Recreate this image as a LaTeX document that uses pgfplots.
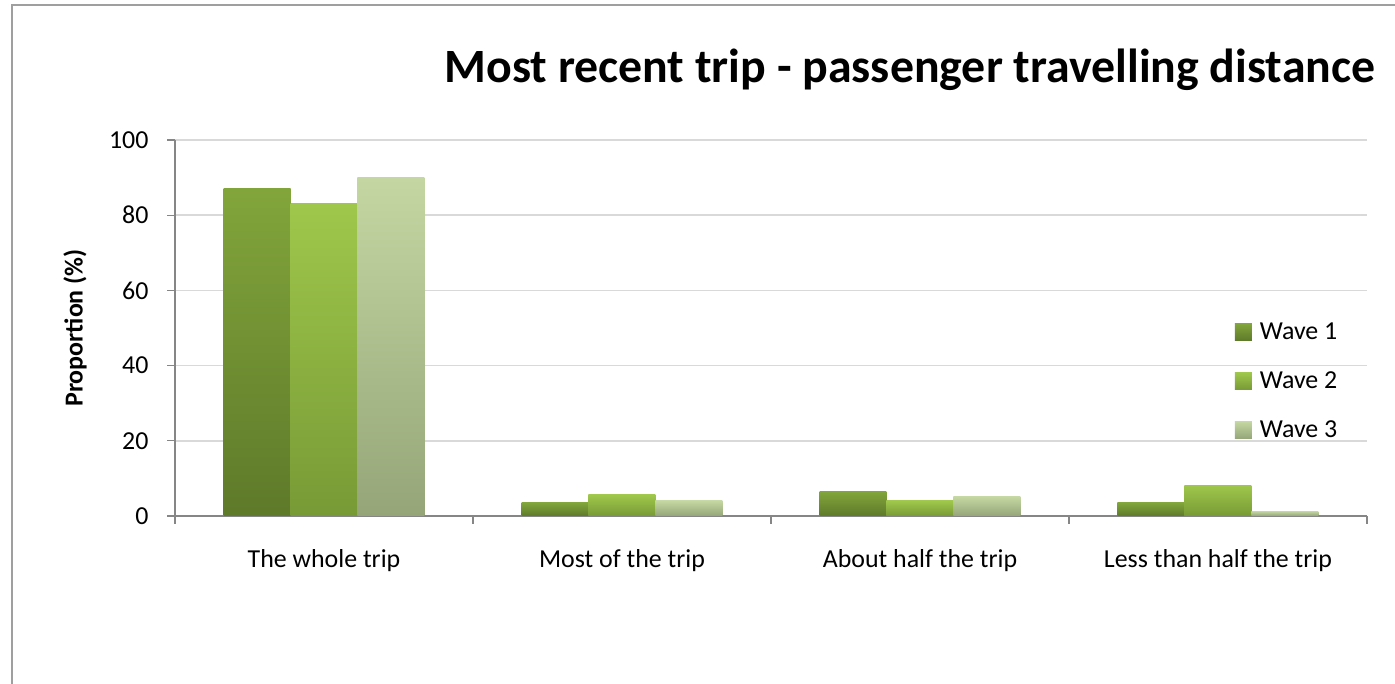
\documentclass[border=0pt]{standalone}
\usepackage{pgfplots}
\pgfplotsset{compat=1.18}
\usepackage{fontspec}
\setmainfont{Carlito}
\definecolor{w1t}{HTML}{82A53B}
\definecolor{w1b}{HTML}{5E7A2A}
\definecolor{w2t}{HTML}{9FC74B}
\definecolor{w2b}{HTML}{789A36}
\definecolor{w3t}{HTML}{C4D7A2}
\definecolor{w3b}{HTML}{95A578}
\definecolor{axgray}{HTML}{868686}
\definecolor{gridgray}{HTML}{D9D9D9}
\tikzset{
  w1/.style={top color=w1t, bottom color=w1b, draw=none},
  w2/.style={top color=w2t, bottom color=w2b, draw=none},
  w3/.style={top color=w3t, bottom color=w3b, draw=none},
}
\pgfplotsset{
  s1/.style={w1, bar shift=-0.2248, legend image code/.code={\path[w1] (0bp,-7.5bp) rectangle (17bp,9.5bp);}},
  s2/.style={w2, bar shift=0, legend image code/.code={\path[w2] (0bp,-7.5bp) rectangle (17bp,9.5bp);}},
  s3/.style={w3, bar shift=0.2248, legend image code/.code={\path[w3] (0bp,-7.5bp) rectangle (17bp,9.5bp);}},
}
\begin{document}
\begin{tikzpicture}[x=1bp,y=1bp]
\useasboundingbox (0,0) rectangle (1395,684);
\fill[white] (0,0) rectangle (1395,684);
\draw[gray!75, line width=1.5bp] (12,0) -- (12,679) -- (1395,679);
\node[font=\fontsize{48}{52}\selectfont\bfseries, anchor=center] at (910,614) {Most recent trip - passenger travelling distance};
\begin{axis}[
  at={(175bp,168bp)}, anchor=south west,
  width=1192bp, height=376bp, scale only axis,
  xmin=-0.5, xmax=3.5, ymin=0, ymax=100,
  ybar, bar width=0.2248,
  axis x line*=bottom, axis y line*=left,
  x axis line style={axgray, line width=2bp, -},
  y axis line style={axgray, line width=1.5bp, -},
  xtick={0,1,2,3},
  xticklabels={The whole trip, Most of the trip, About half the trip, Less than half the trip},
  minor xtick={-0.5,0.5,1.5,2.5,3.5},
  major x tick style={draw=none},
  minor x tick style={axgray, line width=1.2bp},
  minor tick length=8bp,
  ytick={0,20,40,60,80,100},
  y tick style={axgray, line width=1.2bp},
  major tick length=8bp,
  tick align=outside,
  ymajorgrids, major grid style={gridgray, line width=1.5bp},
  /pgf/number format/assume math mode=true,
  ticklabel style={font=\fontsize{26}{28}\selectfont},
  xticklabel style={yshift=-22bp},
  yticklabel style={xshift=-15bp},
  ylabel={Proportion (\%)},
  ylabel style={font=\fontsize{26}{28}\selectfont\bfseries, at={(axis description cs:-0.0839,0.5)}, anchor=center, rotate=0},
  legend style={draw=none, fill=none, at={(0.8865,0.356)}, anchor=west,
    font=\fontsize{26}{28}\selectfont, row sep=25bp,
    nodes={inner sep=1bp, text height=17bp, text depth=5bp},
    /tikz/every odd column/.append style={column sep=7bp}},
  legend cell align=left,
  clip=false,
]
% Wave 1
\addplot[s1] coordinates {(0,87.2)};
% Wave 2
\addplot[s2] coordinates {(0,83.0)};
% Wave 3
\addplot[s3] coordinates {(0,89.9)};
\addplot[s1, forget plot] coordinates {(1,3.5)};
\addplot[s1, forget plot] coordinates {(2,6.5)};
\addplot[s1, forget plot] coordinates {(3,3.5)};
\addplot[s2, forget plot] coordinates {(1,5.6)};
\addplot[s2, forget plot] coordinates {(2,4.0)};
\addplot[s2, forget plot] coordinates {(3,8.2)};
\addplot[s3, forget plot] coordinates {(1,4.0)};
\addplot[s3, forget plot] coordinates {(2,5.1)};
\addplot[s3, forget plot] coordinates {(3,1.3)};
\legend{Wave 1, Wave 2, Wave 3}
\end{axis}
\end{tikzpicture}
\end{document}
